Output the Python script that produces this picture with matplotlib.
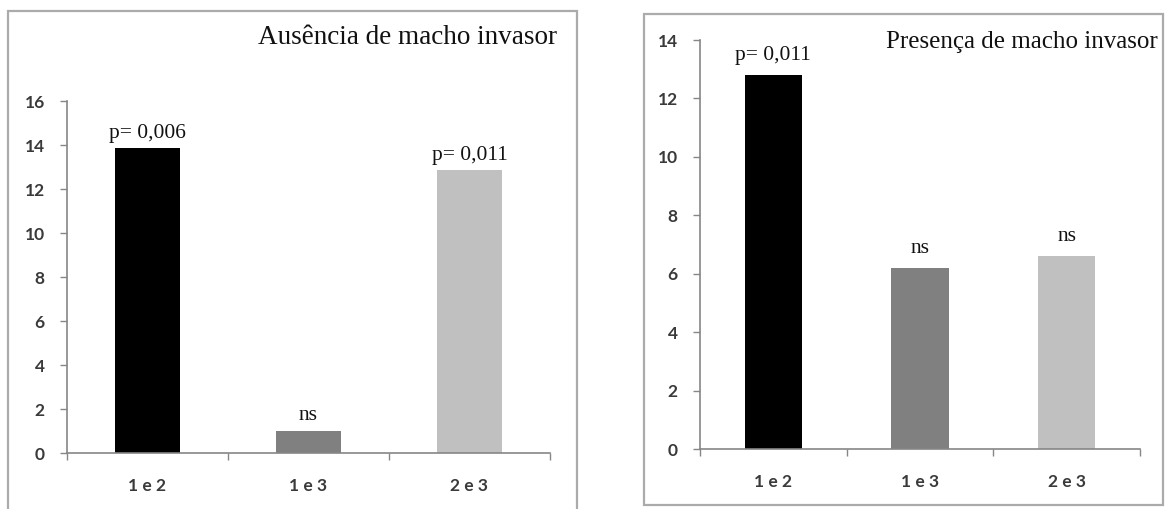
import matplotlib
matplotlib.use("Agg")
import matplotlib.pyplot as plt
from matplotlib.patches import Rectangle

# Data
categories = ["1 e 2", "1 e 3", "2 e 3"]
ausencia_values = [13.85, 1.0, 12.85]
ausencia_labels = ["p= 0,006", "ns", "p= 0,011"]
presenca_values = [12.8, 6.2, 6.6]
presenca_labels = ["p= 0,011", "ns", "ns"]
bar_colors = ["#000000", "#808080", "#c0c0c0"]

W, H = 1166, 509
fig = plt.figure(figsize=(W / 100, H / 100), dpi=100)
fig.patch.set_facecolor("white")

SERIF = "Liberation Serif"
SANS = "Lato"
AXIS_COLOR = "#868686"
TICK_TEXT = "#3a3a3a"


def px_rect(x0, y0, x1, y1):
    """Convert pixel box (top-left origin) to figure fraction rect."""
    return [x0 / W, 1 - y1 / H, (x1 - x0) / W, (y1 - y0) / H]


def frame(x0, y0, x1, y1):
    r = px_rect(x0, y0, x1, y1)
    fig.patches.append(Rectangle((r[0], r[1]), r[2], r[3], transform=fig.transFigure,
                                 fill=False, edgecolor="#ababab", linewidth=1.6))


def panel(rect, values, labels, ymax, title, title_xy, title_size, label_pad, width):
    ax = fig.add_axes(rect)
    x = list(range(len(categories)))
    ax.bar(x, values, width=width, color=bar_colors, edgecolor="none", zorder=2)
    ax.set_xlim(-0.5, len(categories) - 0.5)
    ax.set_ylim(0, ymax)
    ax.set_yticks(range(0, ymax + 1, 2))
    ax.set_xticks(x)
    ax.set_xticklabels(categories)
    ax.set_xticks([i - 0.5 for i in range(len(categories) + 1)], minor=True)
    ax.tick_params(axis="x", which="major", length=0, pad=18)
    ax.tick_params(axis="x", which="minor", length=5, width=1, color=AXIS_COLOR, direction="out")
    ax.tick_params(axis="y", length=5, width=1, color=AXIS_COLOR, direction="out", pad=11)
    for lab in ax.get_xticklabels() + ax.get_yticklabels():
        lab.set_fontfamily(SANS)
        lab.set_fontweight("bold")
        lab.set_fontsize(12.5)
        lab.set_color(TICK_TEXT)
    for s in ("top", "right"):
        ax.spines[s].set_visible(False)
    for s in ("left", "bottom"):
        ax.spines[s].set_color(AXIS_COLOR)
        ax.spines[s].set_linewidth(1.2)
    ax.set_facecolor("none")
    for xi, v, t in zip(x, values, labels):
        ax.annotate(t, (xi, v), xytext=(0, label_pad), textcoords="offset points",
                    ha="center", va="bottom", fontfamily=SERIF, fontsize=15.5, color="#111111")
    fig.text(title_xy[0] / W, 1 - title_xy[1] / H, title, ha="right", va="center",
             fontfamily=SERIF, fontsize=title_size, color="#111111")
    return ax


frame(8, 11, 577, 520)
frame(644, 14, 1163, 505)

panel(px_rect(67, 101, 550, 453), ausencia_values, ausencia_labels, 16,
      "Ausência de macho invasor", (557, 38), 19.5, 4, 0.40)
panel(px_rect(700, 40, 1140, 449), presenca_values, presenca_labels, 14,
      "Presença de macho invasor", (1158, 42), 18, 7, 0.39)

fig.savefig("out.png", dpi=100, facecolor="white")
